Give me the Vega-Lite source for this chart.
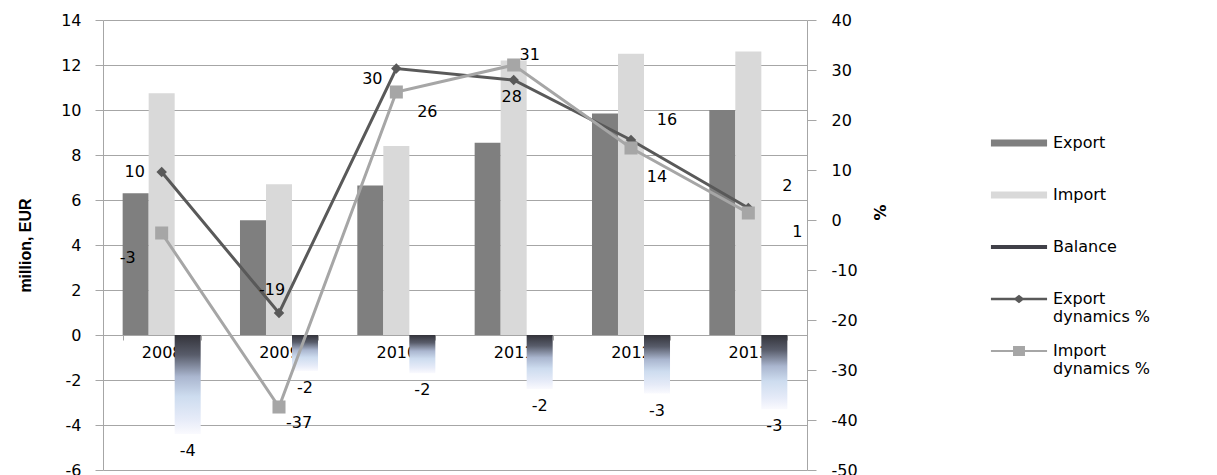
{
  "$schema": "https://vega.github.io/schema/vega-lite/v6.json",
  "width": 704,
  "height": 450,
  "autosize": {"type": "none"},
  "padding": {"left": 103, "top": 20, "right": 410, "bottom": 5},
  "background": "white",
  "config": {
    "view": {"stroke": null},
    "font": "DejaVu Sans",
    "locale": {"number": {"decimal": ".", "thousands": ",", "grouping": [3], "currency": ["$", ""], "minus": "-"}},
    "axis": {"labelFont": "DejaVu Sans", "labelFontSize": 16, "labelColor": "#000000", "gridColor": "#a6a6a6", "domainColor": "#a6a6a6", "tickColor": "#a6a6a6"},
    "legend": {"orient": "none", "legendX": 893, "legendY": 100, "padding": 0, "symbolSize": 2116, "rowPadding": 3, "labelFont": "DejaVu Sans", "labelFontSize": 16, "labelOffset": 11, "labelLimit": 300, "labelColor": "#000000", "symbolStrokeWidth": 0}
  },
  "datasets": {
    "bars": [
      {"year": "2008", "series": "Export", "value": 6.3},
      {"year": "2009", "series": "Export", "value": 5.1},
      {"year": "2010", "series": "Export", "value": 6.65},
      {"year": "2011", "series": "Export", "value": 8.55},
      {"year": "2012", "series": "Export", "value": 9.85},
      {"year": "2013", "series": "Export", "value": 10.0},
      {"year": "2008", "series": "Import", "value": 10.75},
      {"year": "2009", "series": "Import", "value": 6.7},
      {"year": "2010", "series": "Import", "value": 8.4},
      {"year": "2011", "series": "Import", "value": 12.2},
      {"year": "2012", "series": "Import", "value": 12.5},
      {"year": "2013", "series": "Import", "value": 12.6}
    ],
    "balance": [
      {"year": "2008", "series": "Balance", "value": -4.4},
      {"year": "2009", "series": "Balance", "value": -1.6},
      {"year": "2010", "series": "Balance", "value": -1.7},
      {"year": "2011", "series": "Balance", "value": -2.4},
      {"year": "2012", "series": "Balance", "value": -2.6},
      {"year": "2013", "series": "Balance", "value": -3.3}
    ],
    "dyn": [
      {"year": "2008", "series": "Export dynamics %", "value": 9.6},
      {"year": "2009", "series": "Export dynamics %", "value": -18.6},
      {"year": "2010", "series": "Export dynamics %", "value": 30.3},
      {"year": "2011", "series": "Export dynamics %", "value": 28},
      {"year": "2012", "series": "Export dynamics %", "value": 16},
      {"year": "2013", "series": "Export dynamics %", "value": 2.4},
      {"year": "2008", "series": "Import dynamics %", "value": -2.6},
      {"year": "2009", "series": "Import dynamics %", "value": -37.4},
      {"year": "2010", "series": "Import dynamics %", "value": 25.6},
      {"year": "2011", "series": "Import dynamics %", "value": 31},
      {"year": "2012", "series": "Import dynamics %", "value": 14.4},
      {"year": "2013", "series": "Import dynamics %", "value": 1.4}
    ]
  },
  "encoding": {
    "x": {
      "field": "year", "type": "nominal",
      "scale": {"paddingInner": 0.335, "paddingOuter": 0.1675},
      "axis": {"orient": "bottom", "offset": -135, "domain": false, "tickBand": "extent", "tickSize": 5, "labelPadding": 4, "labelAngle": 0, "title": null, "grid": false}
    }
  },
  "layer": [
    {
      "encoding": {
        "y": {
          "field": "value", "type": "quantitative",
          "scale": {"domain": [-6, 14], "nice": false, "zero": false},
          "axis": {"orient": "left", "values": [-6, -4, -2, 0, 2, 4, 6, 8, 10, 12, 14], "grid": true, "domain": true, "ticks": true, "tickSize": 8, "labelPadding": 14, "title": "million, EUR", "titleFont": "Liberation Sans", "titleFontSize": 16, "titleFontWeight": "bold", "titleColor": "#000000", "titleX": -78, "titleY": 225, "titleAngle": 270, "titleAlign": "center", "titleBaseline": "middle"}
        }
      },
      "layer": [
        {
          "data": {"name": "bars"},
          "mark": {"type": "bar", "opacity": 1},
          "encoding": {
            "xOffset": {"field": "series", "type": "nominal", "scale": {"domain": ["Export", "Import", "Balance"], "paddingInner": 0, "paddingOuter": 0}},
            "color": {
              "field": "series", "type": "nominal",
              "scale": {"domain": ["Export", "Import", "Balance", "Export dynamics %", "Import dynamics %"], "range": ["#7f7f7f", "#d9d9d9", "#404048", "#595959", "#a6a6a6"]},
              "legend": {
                "title": null,
                "symbolType": {"expr": "datum.value == 'Export' || datum.value == 'Import' ? 'M-1.22,-0.15H1.22V0.15H-1.22Z' : datum.value == 'Balance' ? 'M-1.22,-0.09H1.22V0.09H-1.22Z' : datum.value == 'Export dynamics %' ? 'M-1.22,-0.055H1.22V0.055H-1.22Z M-0.24,0L0,-0.18L0.24,0L0,0.18Z' : 'M-1.22,-0.045H1.22V0.045H-1.22Z M-0.26,-0.22H0.26V0.22H-0.26Z'"},
                "labelExpr": "datum.value == 'Export dynamics %' ? ['Export', 'dynamics %'] : datum.value == 'Import dynamics %' ? ['Import', 'dynamics %'] : [datum.label, '']",
                "encode": {
                  "labels": {
                    "dy": {"value": 4}
                  }
                }
              }
            }
          }
        },
        {
          "data": {"name": "balance"},
          "mark": {"type": "bar", "color": {"gradient": "linear", "x1": 0, "y1": 0, "x2": 0, "y2": 1, "stops": [{"offset": 0, "color": "#33333a"}, {"offset": 0.2, "color": "#585c6a"}, {"offset": 0.42, "color": "#aab6cf"}, {"offset": 0.62, "color": "#cddcef"}, {"offset": 0.85, "color": "#e6ebf8"}, {"offset": 1, "color": "#fafafe"}]}},
          "encoding": {
            "xOffset": {"field": "series", "type": "nominal", "scale": {"domain": ["Export", "Import", "Balance"], "paddingInner": 0, "paddingOuter": 0}}
          }
        },
        {
          "data": {"name": "balance"},
          "mark": {"type": "text", "font": "DejaVu Sans", "fontSize": 16, "color": "#000000", "dy": 17, "baseline": "middle", "text": {"expr": "format(round(datum.value), 'd')"}},
          "encoding": {
            "xOffset": {"field": "series", "type": "nominal", "scale": {"domain": ["Export", "Import", "Balance"], "paddingInner": 0, "paddingOuter": 0}}
          }
        }
      ]
    },
    {
      "data": {"name": "dyn"},
      "encoding": {
        "y": {
          "field": "value", "type": "quantitative",
          "scale": {"domain": [-50, 40], "nice": false, "zero": false},
          "axis": {"orient": "right", "values": [-50, -40, -30, -20, -10, 0, 10, 20, 30, 40], "grid": false, "domain": true, "ticks": true, "tickSize": 9, "labelPadding": 15, "title": "%", "titleFont": "DejaVu Sans", "titleFontSize": 16, "titleFontWeight": "bold", "titleColor": "#000000", "titleX": 71, "titleY": 192, "titleAngle": 90, "titleAlign": "center", "titleBaseline": "middle"}
        }
      },
      "layer": [
        {
          "mark": {"type": "line", "strokeWidth": 3},
          "encoding": {"color": {"field": "series", "type": "nominal", "legend": null}}
        },
        {
          "mark": {"type": "point", "filled": true, "opacity": 1},
          "encoding": {
            "color": {"field": "series", "type": "nominal", "legend": null},
            "shape": {"field": "series", "type": "nominal", "scale": {"domain": ["Export dynamics %", "Import dynamics %"], "range": ["diamond", "square"]}, "legend": null},
            "size": {"field": "series", "type": "nominal", "scale": {"domain": ["Export dynamics %", "Import dynamics %"], "range": [110, 170]}, "legend": null}
          }
        },
        {
          "transform": [{"filter": "datum.series == 'Export dynamics %'"}],
          "mark": {"type": "text", "font": "DejaVu Sans", "fontSize": 16, "color": "#000000", "baseline": "middle", "align": "center",
            "dx": {"expr": "[-27, -7, -24, -2, 36, 39][indexof(['2008','2009','2010','2011','2012','2013'], datum.year)]"},
            "dy": {"expr": "[0, -23, 10, 17, -20, -22][indexof(['2008','2009','2010','2011','2012','2013'], datum.year)]"},
            "text": {"expr": "format(round(datum.value), 'd')"}}
        },
        {
          "transform": [{"filter": "datum.series == 'Import dynamics %'"}],
          "mark": {"type": "text", "font": "DejaVu Sans", "fontSize": 16, "color": "#000000", "baseline": "middle", "align": "center",
            "dx": {"expr": "[-34, 20, 31, 16, 26, 49][indexof(['2008','2009','2010','2011','2012','2013'], datum.year)]"},
            "dy": {"expr": "[25, 16, 20, -10, 29, 19][indexof(['2008','2009','2010','2011','2012','2013'], datum.year)]"},
            "text": {"expr": "format(round(datum.value), 'd')"}}
        }
      ]
    }
  ],
  "resolve": {"scale": {"y": "independent"}}
}
